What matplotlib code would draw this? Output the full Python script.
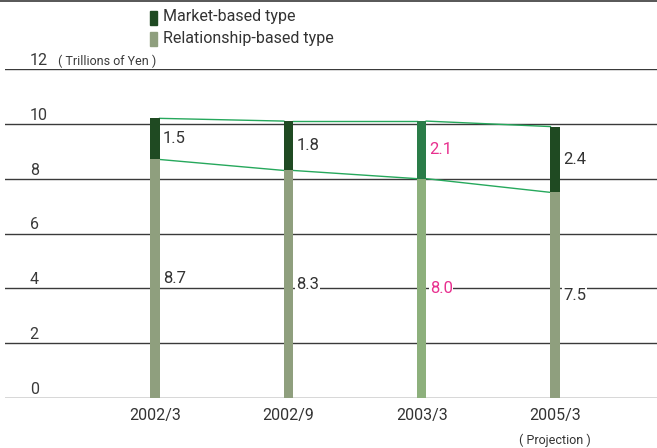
import matplotlib.pyplot as plt
from matplotlib.lines import Line2D
from matplotlib.patches import Rectangle

categories = ["2002/3", "2002/9", "2003/3", "2005/3"]
relationship = [8.7, 8.3, 8.0, 7.5]
market = [1.5, 1.8, 2.1, 2.4]
highlight = 2  # 2003/3 shown in a brighter colour with pink labels
yticks = [0, 2, 4, 6, 8, 10, 12]

plt.rcParams['font.family'] = ['Roboto', 'DejaVu Sans']

W, H = 657, 448
fig = plt.figure(figsize=(W / 100, H / 100), dpi=100)
ax = fig.add_axes([5 / W, 1 - 398 / H, 652 / W, (398 - 69) / H])
ax.set_xlim(-1.125, 3.765)
ax.set_ylim(0, 12)
ax.axis('off')

grey = '#3a3a3a'
for t in yticks:
    ax.axhline(t, color=grey, lw=1.0, zorder=1)
    ax.text(-0.94, t + 0.15, str(t), ha='left', va='baseline', fontsize=11.5, color=grey)
ax.text(-0.73, 12.15, "( Trillions of Yen )", ha='left', va='baseline', fontsize=9, color=grey)
fig.add_artist(Line2D([0, 1], [1 - 1.5 / H, 1 - 1.5 / H], color=grey, lw=1.2))

bw = 0.068
x = list(range(len(categories)))
mk_col = ['#1f4a22'] * 4
rel_col = ['#8f9f7e'] * 4
mk_col[highlight] = '#2a7c48'
rel_col[highlight] = '#8db07c'
ax.bar(x, relationship, width=bw, color=rel_col, zorder=3)
ax.bar(x, market, bottom=relationship, width=bw, color=mk_col, zorder=3)

# connecting lines between bars
line_col = '#26a85c'
for i in range(len(x) - 1):
    top0 = relationship[i] + market[i]
    top1 = relationship[i + 1] + market[i + 1]
    ax.plot([x[i] + bw / 2, x[i + 1] - bw / 2], [top0, top1], color=line_col, lw=1.0, zorder=2)
    ax.plot([x[i] + bw / 2, x[i + 1] - bw / 2], [relationship[i], relationship[i + 1]],
            color=line_col, lw=1.0, zorder=2)

for i in x:
    c = '#e8308f' if i == highlight else '#333333'
    ax.text(i + 0.06, relationship[i] + market[i] / 2, f"{market[i]:.1f}", ha='left', va='center',
            fontsize=12, color=c, zorder=4)
    ax.text(i + 0.06, relationship[i] / 2, f"{relationship[i]:.1f}", ha='left', va='center',
            fontsize=12, color=c, zorder=4,
            bbox=dict(boxstyle='square,pad=0.05', fc='white', ec='none'))
    ax.text(i, -0.35, categories[i], ha='center', va='top', fontsize=11.5, color='#333333')
ax.text(3, -1.3, "( Projection )", ha='center', va='top', fontsize=9, color='#333333')

# legend
fig.add_artist(Rectangle((150 / W, 1 - 25 / H), 7 / W, 14 / H, color='#1f4a22'))
fig.add_artist(Rectangle((150 / W, 1 - 46 / H), 7 / W, 14 / H, color='#8f9f7e'))
fig.text(163 / W, 1 - 17 / H, "Market-based type", ha='left', va='center', fontsize=11.5, color='#333333')
fig.text(163 / W, 1 - 39 / H, "Relationship-based type", ha='left', va='center', fontsize=11.5, color='#333333')

fig.savefig('out.png', dpi=100)
